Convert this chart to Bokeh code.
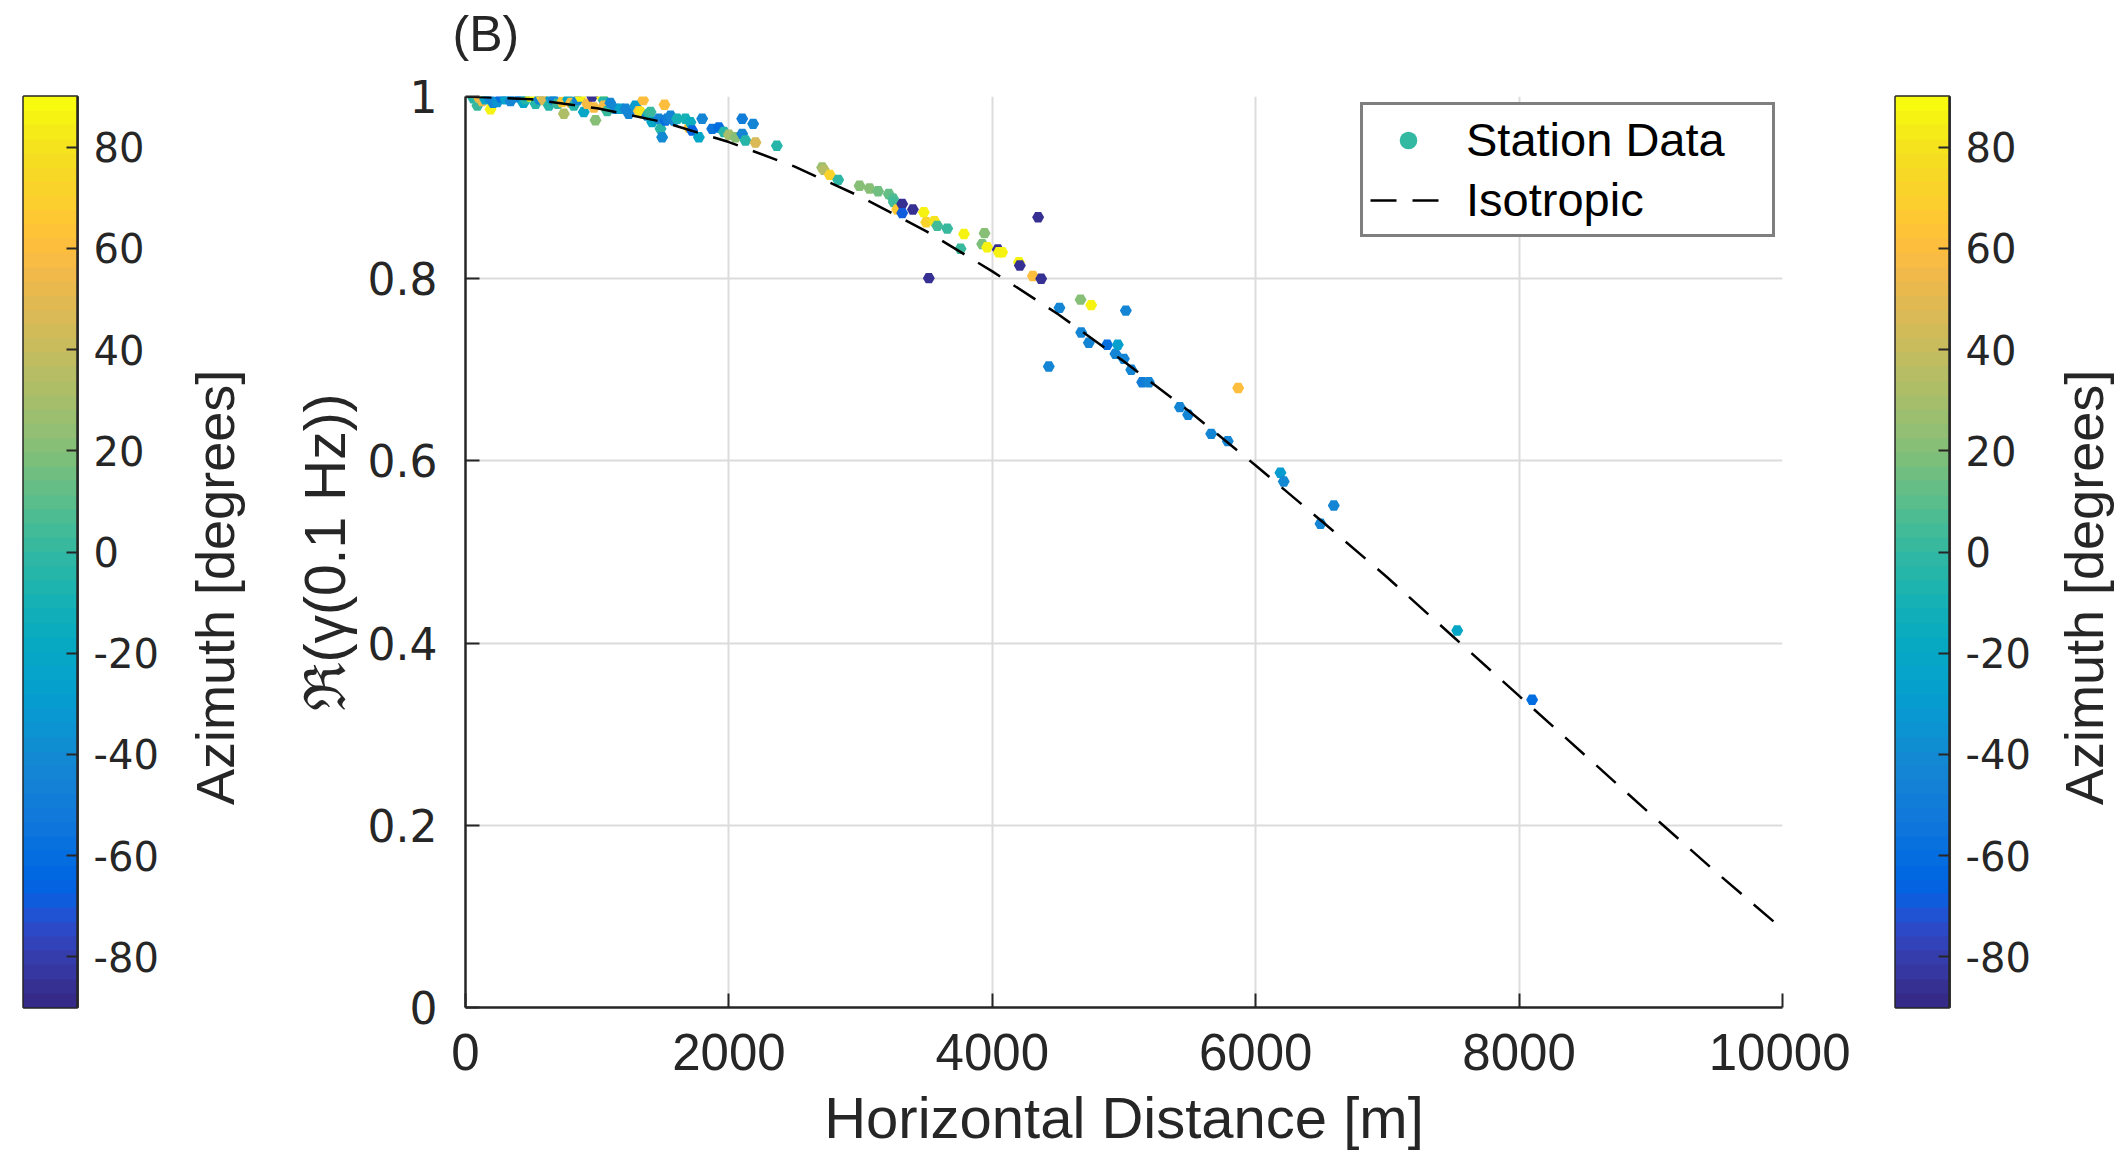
import numpy as np
from bokeh.plotting import figure
from bokeh.models import (Range1d, FixedTicker, LinearColorMapper, ColumnDataSource,
                          Legend, LegendItem, Label, LinearAxis)
from bokeh.layouts import row
from bokeh.embed import file_html
from bokeh.resources import INLINE

# ---------------- data ----------------
dist = [60, 90, 101, 127, 150, 177, 190, 210, 241, 270, 304, 342, 380, 418, 440, 456, 494, 532,
        560, 582, 595, 633, 650, 671, 700, 734, 747, 780, 800, 823, 850, 873, 898, 924, 962, 975, 987,
        1038, 1050, 1052, 1076, 1100, 1139, 1177, 1215, 1240, 1290, 1316, 1329, 1349, 1380, 1392, 1405,
        1417, 1468, 1481, 1493, 1511,
        1518, 1531, 1557, 1582, 1607, 1670, 1696, 1708, 1721, 1772, 1797, 1873, 1924, 1962, 2000, 2050,
        2101, 2101, 2126, 2184, 2202, 2364,
        2708, 2721, 2766, 2830, 2992, 3068, 3133, 3214, 3247, 3252, 3278, 3316, 3316, 3397, 3480, 3498,
        3518, 3560, 3582, 3658, 3759, 3785, 3923, 3941, 3961, 4042, 4050, 4075, 4202, 4209, 4308, 4348,
        4371,
        4429, 4510, 4670, 4675, 4733, 4751, 4872, 4935, 4953, 4999, 5014, 5055, 5138, 5189, 5424, 5487,
        5662, 5788, 5867, 6188, 6213, 6492, 6593, 7530, 8099]
coh = [0.998, 0.990, 0.999, 0.995, 0.997, 0.999, 0.986, 0.993, 0.994, 0.999, 0.997, 0.995, 0.999, 0.999,
       0.993, 0.997, 1.000, 0.992,
       0.997, 0.999, 0.996, 0.990, 0.998, 0.996, 0.992, 0.994, 0.981, 0.997, 0.993, 0.990, 0.996, 1.000,
       0.983, 0.992, 1.000, 0.988, 0.974,
       0.999, 0.996, 0.990, 0.984, 0.993, 0.9865, 0.9865, 0.9865, 0.981, 0.990, 0.984, 0.983, 0.996,
       0.979, 0.981, 0.983, 0.972, 0.9755, 0.9645, 0.9553, 0.991,
       0.9737, 0.9755, 0.979, 0.9737, 0.9755, 0.9755, 0.966, 0.9718, 0.9627, 0.9553, 0.9755, 0.9645,
       0.966, 0.961, 0.958, 0.9553, 0.9755, 0.959, 0.9517, 0.970, 0.9495, 0.946,
       0.922, 0.9195, 0.914, 0.9085, 0.902, 0.899, 0.896, 0.893, 0.8877, 0.884, 0.876, 0.882, 0.872,
       0.876, 0.873, 0.862, 0.8006, 0.863, 0.858, 0.855, 0.8328, 0.849, 0.838, 0.850, 0.8346, 0.832,
       0.829, 0.829, 0.818, 0.8145, 0.803, 0.8675, 0.800,
       0.7036, 0.768, 0.777, 0.741, 0.7297, 0.771, 0.7275, 0.7175, 0.7275, 0.712, 0.765, 0.700, 0.6864,
       0.6864, 0.659, 0.6506, 0.6297, 0.6217, 0.680, 0.587, 0.5774, 0.531, 0.551, 0.4138, 0.3378]
azim = [-5, 0, 55, 55, -20, -45, 85, -45, -35, -60, -25, -45, -40, -50, -20, -5, 85, -5,
        -45, 70, 45, -5, -30, -45, 0, 65, 32, -20, 58, -5, -45, 85, -20, 58, -85, 58, 22,
        85, -5, 58, 0, -45, -40, -25, -45, -45, -30, 62, 80, 60, -45, -5, 0,
        -20, -45, -5, -40, 60,
        -60, -50, -45, -45, -10, -10, 60, -15, -65, -20, -45, -55, -60, -5, 30, 20,
        -50, -45, -5, -45, 45, -5,
        28, 36, 72, -2, 22, 20, 15, 12, 8, 5, 65, -85, -70, -85, 85, 72,
        -85, 80, 5, 0, 0, 85, 18, 20, 85, -85, 85, 85, 85, -85, 60, -85,
        -85,
        -45, -45, 20, -45, -45, 85, -60, -45, -28, -45, -45, -45, -50, -45, -45, -45,
        -45, -45, 60, -30, -40, -45, -45, -20, -60]

iso_dist = [0, 500, 1000, 1500, 2000, 2500, 3000, 3500, 4000, 4500, 5000,
            5500, 6000, 6500, 7000, 7500, 8000, 8500, 9000, 9500, 10000]
iso_coh = [1.0, 0.997, 0.987, 0.972, 0.950, 0.923, 0.890, 0.852, 0.808, 0.761, 0.709,
           0.654, 0.595, 0.534, 0.472, 0.407, 0.342, 0.277, 0.212, 0.148, 0.086]

x_ticks = [0, 2000, 4000, 6000, 8000, 10000]
y_ticks = [0, 0.2, 0.4, 0.6, 0.8, 1]
cb_ticks = [-80, -60, -40, -20, 0, 20, 40, 60, 80]
az_low, az_high = -90, 90

# ---------------- parula palette ----------------
_cm = [[0.2081, 0.1663, 0.5292], [0.2116, 0.1898, 0.5777], [0.2123, 0.2138, 0.6270], [0.2081, 0.2386, 0.6771],
       [0.1959, 0.2645, 0.7279], [0.1707, 0.2919, 0.7792], [0.1253, 0.3242, 0.8303], [0.0591, 0.3598, 0.8683],
       [0.0117, 0.3875, 0.8820], [0.0060, 0.4086, 0.8828], [0.0165, 0.4266, 0.8786], [0.0329, 0.4430, 0.8720],
       [0.0498, 0.4586, 0.8641], [0.0629, 0.4737, 0.8554], [0.0723, 0.4887, 0.8467], [0.0779, 0.5040, 0.8384],
       [0.0793, 0.5200, 0.8312], [0.0749, 0.5375, 0.8263], [0.0641, 0.5570, 0.8240], [0.0488, 0.5772, 0.8228],
       [0.0343, 0.5966, 0.8199], [0.0265, 0.6137, 0.8135], [0.0239, 0.6287, 0.8038], [0.0231, 0.6418, 0.7913],
       [0.0228, 0.6535, 0.7768], [0.0267, 0.6642, 0.7607], [0.0384, 0.6743, 0.7436], [0.0590, 0.6838, 0.7254],
       [0.0843, 0.6928, 0.7062], [0.1133, 0.7015, 0.6859], [0.1453, 0.7098, 0.6646], [0.1801, 0.7177, 0.6424],
       [0.2178, 0.7250, 0.6193], [0.2586, 0.7317, 0.5954], [0.3022, 0.7376, 0.5712], [0.3482, 0.7424, 0.5473],
       [0.3953, 0.7459, 0.5244], [0.4420, 0.7481, 0.5033], [0.4871, 0.7491, 0.4840], [0.5300, 0.7491, 0.4661],
       [0.5709, 0.7485, 0.4494], [0.6099, 0.7473, 0.4337], [0.6473, 0.7456, 0.4188], [0.6834, 0.7435, 0.4044],
       [0.7184, 0.7411, 0.3905], [0.7525, 0.7384, 0.3768], [0.7858, 0.7356, 0.3633], [0.8185, 0.7327, 0.3498],
       [0.8507, 0.7299, 0.3360], [0.8824, 0.7274, 0.3217], [0.9139, 0.7258, 0.3063], [0.9450, 0.7261, 0.2886],
       [0.9739, 0.7314, 0.2666], [0.9938, 0.7455, 0.2403], [0.9990, 0.7653, 0.2164], [0.9955, 0.7861, 0.1967],
       [0.9880, 0.8066, 0.1794], [0.9789, 0.8271, 0.1633], [0.9697, 0.8481, 0.1475], [0.9626, 0.8705, 0.1309],
       [0.9589, 0.8949, 0.1132], [0.9598, 0.9218, 0.0948], [0.9661, 0.9514, 0.0755], [0.9763, 0.9831, 0.0538]]
PARULA = ["#%02x%02x%02x" % tuple(int(round(c * 255)) for c in rgb) for rgb in _cm]

mapper = LinearColorMapper(palette=PARULA, low=az_low, high=az_high)

DARK = "#262626"
HELV = "Liberation Sans"
WIDE = "DejaVu Sans"
# trailing no-break spaces push the (bottom-to-top) title a little below centre, as in the original
CB_TITLE = "Azimuth [degrees]" + "\u00a0" * 4 + "\u2009"

FRAME_TOP = 96
FRAME_H = 911
BOTTOM = 1160 - FRAME_TOP - FRAME_H


def title_holder(left_border):
    """A blank strip whose only content is a label-only axis (colour-bar title)."""
    f = figure(x_range=Range1d(0, 1), y_range=Range1d(0, 1), title=None,
               frame_width=3, frame_height=FRAME_H,
               min_border_left=left_border, min_border_right=0,
               min_border_top=FRAME_TOP, min_border_bottom=BOTTOM,
               x_axis_location=None, y_axis_location=None,
               output_backend="svg", toolbar_location=None,
               outline_line_color=None, background_fill_color="white")
    f.grid.visible = False
    ax = LinearAxis(ticker=FixedTicker(ticks=[]), axis_label=CB_TITLE,
                    axis_label_text_font=HELV, axis_label_text_font_size="54px",
                    axis_label_text_font_style="normal", axis_label_text_color=DARK,
                    axis_label_standoff=10, major_label_standoff=0,
                    axis_line_color=None, major_tick_line_color=None, minor_tick_line_color=None,
                    major_tick_in=0, major_tick_out=0, minor_tick_in=0, minor_tick_out=0)
    f.add_layout(ax, "left")
    return f


# ---------------- main plot ----------------
p = figure(x_range=Range1d(0, 10000), y_range=Range1d(0, 1), title=None,
           frame_width=1317, frame_height=FRAME_H,
           min_border_left=208, min_border_right=68,
           min_border_top=FRAME_TOP, min_border_bottom=BOTTOM,
           output_backend="svg", toolbar_location=None,
           outline_line_color=None, background_fill_color="white")

# panel letter above the frame
p.add_layout(Label(x=-13, y=35, x_units="screen", y_units="screen", text="(B)",
                   text_font=HELV, text_font_size="50px", text_color=DARK,
                   text_align="left", text_baseline="bottom"), "above")

src = ColumnDataSource(dict(x=dist, y=coh, az=azim))
p.scatter("x", "y", source=src, marker="hex", size=12,
          fill_color={"field": "az", "transform": mapper}, line_color=None)
iso_r = p.line(iso_dist, iso_coh, line_color="black", line_width=2.5, line_dash="26 16")
# legend-only glyph (not drawn in the frame)
dummy = p.scatter(x=[float("nan")], y=[float("nan")], marker="circle",
                  fill_color="#33b8a1", line_color=None)

for ax in (p.xaxis[0], p.yaxis[0]):
    ax.axis_line_color = DARK
    ax.axis_line_width = 2.5
    ax.major_tick_line_color = DARK
    ax.major_tick_line_width = 2
    ax.major_tick_in = 14
    ax.major_tick_out = 0
    ax.minor_tick_line_color = None
    ax.major_label_text_color = DARK
    ax.axis_label_text_color = DARK
    ax.axis_label_text_font = HELV
    ax.axis_label_text_font_style = "normal"

p.xaxis.ticker = FixedTicker(ticks=x_ticks)
p.xaxis.major_label_text_font = HELV
p.xaxis.major_label_text_font_size = "51px"
p.xaxis.major_label_standoff = 26
p.xaxis.axis_label = "Horizontal Distance [m]"
p.xaxis.axis_label_text_font_size = "58px"
p.xaxis.axis_label_standoff = 12

p.yaxis.ticker = FixedTicker(ticks=y_ticks)
p.yaxis.major_label_overrides = {0: "0", 1: "1"}
p.yaxis.major_label_text_font = WIDE
p.yaxis.major_label_text_font_size = "44px"
p.yaxis.major_label_standoff = 28
p.yaxis.axis_label = "ℜ(γ(0.1 Hz))"
p.yaxis.axis_label_text_font_size = "57px"
p.yaxis.axis_label_standoff = 8

p.grid.grid_line_color = "#dcdcdc"
p.grid.grid_line_width = 2
p.xgrid.ticker = FixedTicker(ticks=x_ticks)
p.ygrid.ticker = FixedTicker(ticks=y_ticks)

legend = Legend(items=[LegendItem(label="Station Data", renderers=[dummy]),
                       LegendItem(label="Isotropic", renderers=[iso_r])],
                location=(895, 770), orientation="vertical",
                padding=7, spacing=5, margin=0,
                glyph_width=76, glyph_height=44, label_height=44, label_width=299,
                label_standoff=20,
                label_text_font=HELV, label_text_font_size="47px", label_text_color="black",
                border_line_color="black", border_line_width=3,
                background_fill_color="white", background_fill_alpha=1.0)
p.add_layout(legend)

# ---------------- colour bars ----------------
levels = np.linspace(az_low, az_high, len(PARULA) * 4).reshape(-1, 1)


def make_cb(left_border, right_border):
    cb = figure(x_range=Range1d(0, 1), y_range=Range1d(az_low, az_high),
                frame_width=54, frame_height=FRAME_H,
                min_border_left=left_border, min_border_right=right_border,
                min_border_top=FRAME_TOP, min_border_bottom=BOTTOM,
                x_axis_location=None, y_axis_location="right",
                output_backend="svg", toolbar_location=None,
                outline_line_color=DARK, outline_line_width=2.5)
    cb.grid.visible = False
    cb.image(image=[levels], x=0, y=az_low, dw=1, dh=az_high - az_low, color_mapper=mapper)
    ax = cb.yaxis[0]
    ax.ticker = FixedTicker(ticks=cb_ticks)
    ax.major_label_overrides = {t: str(t) for t in cb_ticks}
    ax.axis_line_color = DARK
    ax.axis_line_width = 2.5
    ax.major_tick_line_color = DARK
    ax.major_tick_line_width = 2
    ax.major_tick_in = 11
    ax.major_tick_out = 0
    ax.minor_tick_line_color = None
    ax.major_label_text_font = WIDE
    ax.major_label_text_font_size = "40px"
    ax.major_label_text_color = DARK
    ax.major_label_standoff = 16
    return cb


cb_left = make_cb(23, 93)        # 0 .. 170
t_left = title_holder(84)        # 170 .. 257
# main figure                     257 .. 1850
cb_right = make_cb(45, 85)       # 1850 .. 2034
t_right = title_holder(89)       # 2034 .. 2126

layout = row(cb_left, t_left, p, cb_right, t_right)
open("out.html", "w").write(file_html(layout, INLINE))
